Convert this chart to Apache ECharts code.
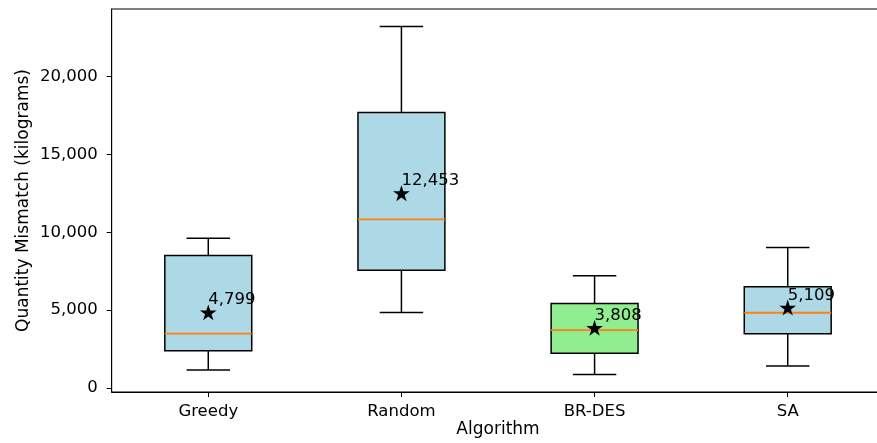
<!DOCTYPE html>
<html>
<head>
<meta charset="utf-8">
<script src="https://cdn.jsdelivr.net/npm/echarts@6/dist/echarts.min.js"></script>
<style>
  html, body { margin: 0; padding: 0; background: #ffffff; overflow: hidden; }
  #chart { width: 885px; height: 443px; }
</style>
</head>
<body>
<div id="chart"></div>
<script>
// Algorithms compared
const algorithms = ['Greedy', 'Random', 'BR-DES', 'SA'];

// Box statistics per algorithm: [lower whisker, Q1, median, Q3, upper whisker] (kg)
const greedyStats = [1154, 2391, 3481, 8506, 9615];
const randomStats = [4850, 7564, 10833, 17692, 23226];
const brdesStats  = [855, 2222, 3718, 5426, 7199];
const saStats     = [1410, 3483, 4829, 6496, 9017];

// Mean mismatch per algorithm (kg)
const meanValues = [4799, 12453, 3808, 5109];

// Y axis tick values
const yTicks = [0, 5000, 10000, 15000, 20000];

const boxStats = [greedyStats, randomStats, brdesStats, saStats];
const highlighted = 'BR-DES';

const FONT = 'DejaVu Sans';
const FS = 16.5;
const fmt = v => Math.round(v).toLocaleString('en-US');

// Axis limits with a 5% margin around the whisker extent
const allVals = boxStats.flat();
const lo = Math.min(...allVals), hi = Math.max(...allVals);
const pad = (hi - lo) * 0.05;
const yMin = lo - pad, yMax = hi + pad;

const boxData = boxStats.map((s, i) => [i, ...s]);
const meanData = meanValues.map((m, i) => [i, m]);

// five-pointed star (outer radius 1, inner radius 0.382)
function starPath() {
  const pts = [];
  for (let k = 0; k < 10; k++) {
    const r = k % 2 === 0 ? 1 : 0.381966;
    const a = -Math.PI / 2 + k * Math.PI / 5;
    pts.push((r * Math.cos(a)).toFixed(4) + ' ' + (r * Math.sin(a)).toFixed(4));
  }
  return 'path://M' + pts.join(' L') + ' Z';
}

const LW = 1.5;

function renderBox(params, api) {
  const idx = api.value(0);
  const band = api.size([1, 0])[0];
  const bw = band * 0.45;
  const cw = band * 0.225;
  const pMin = api.coord([idx, api.value(1)]);
  const pQ1 = api.coord([idx, api.value(2)]);
  const pMed = api.coord([idx, api.value(3)]);
  const pQ3 = api.coord([idx, api.value(4)]);
  const pMax = api.coord([idx, api.value(5)]);
  const cx = pMed[0];
  const fill = algorithms[idx] === highlighted ? '#90EE90' : '#ADD8E6';
  const stroke = { stroke: '#000000', lineWidth: LW };
  return {
    type: 'group',
    children: [
      { type: 'line', shape: { x1: cx, y1: pQ1[1], x2: cx, y2: pMin[1] }, style: stroke },
      { type: 'line', shape: { x1: cx, y1: pQ3[1], x2: cx, y2: pMax[1] }, style: stroke },
      { type: 'line', shape: { x1: cx - cw / 2, y1: pMin[1], x2: cx + cw / 2, y2: pMin[1] }, style: stroke },
      { type: 'line', shape: { x1: cx - cw / 2, y1: pMax[1], x2: cx + cw / 2, y2: pMax[1] }, style: stroke },
      { type: 'rect', shape: { x: cx - bw / 2, y: pQ3[1], width: bw, height: pQ1[1] - pQ3[1] },
        style: { fill: fill, stroke: '#000000', lineWidth: LW } },
      { type: 'line', shape: { x1: cx - bw / 2, y1: pMed[1], x2: cx + bw / 2, y2: pMed[1] },
        style: { stroke: '#ff7f0e', lineWidth: 1.8 } }
    ]
  };
}

function renderMeanLabel(params, api) {
  const p = api.coord([api.value(0), api.value(1)]);
  return {
    type: 'text',
    x: p[0],
    y: p[1] - 13,
    style: {
      text: fmt(api.value(1)),
      font: FS + 'px "' + FONT + '"',
      fill: '#000000',
      align: 'left',
      verticalAlign: 'middle'
    },
    z2: 10
  };
}

const chart = echarts.init(document.getElementById('chart'), null, { renderer: 'canvas' });
chart.setOption({
  animation: false,
  backgroundColor: '#ffffff',
  textStyle: { fontFamily: FONT },
  grid: {
    left: 111.7, right: 0.7, top: 9, bottom: 51,
    containLabel: false,
    outerBoundsMode: 'none',
    show: true, borderColor: '#000000', borderWidth: 1, backgroundColor: 'transparent'
  },
  xAxis: {
    type: 'category',
    data: algorithms,
    boundaryGap: true,
    name: 'Algorithm',
    nameLocation: 'middle',
    nameGap: 29,
    nameMoveOverlap: false,
    nameTextStyle: { fontFamily: FONT, fontSize: 17, color: '#000000' },
    axisLine: { show: true, onZero: false, lineStyle: { color: '#000000', width: 1 } },
    axisTick: { show: true, alignWithLabel: true, length: 5, lineStyle: { color: '#000000', width: 1 } },
    axisLabel: { fontFamily: FONT, fontSize: FS, color: '#000000', margin: 11 },
    splitLine: { show: false }
  },
  yAxis: {
    type: 'value',
    min: yMin,
    max: yMax,
    name: 'Quantity Mismatch (kilograms)',
    nameLocation: 'middle',
    nameGap: 80,
    nameRotate: 90,
    nameMoveOverlap: false,
    nameTextStyle: { fontFamily: FONT, fontSize: 17, color: '#000000' },
    axisLine: { show: true, lineStyle: { color: '#000000', width: 1 } },
    axisTick: { show: true, length: 5, customValues: yTicks, lineStyle: { color: '#000000', width: 1 } },
    axisLabel: {
      fontFamily: FONT, fontSize: FS, color: '#000000', margin: 14,
      customValues: yTicks, formatter: v => fmt(v)
    },
    splitLine: { show: false }
  },
  series: [
    {
      type: 'custom',
      name: 'box',
      renderItem: renderBox,
      data: boxData,
      encode: { x: 0, y: [1, 2, 3, 4, 5] },
      z: 2
    },
    {
      type: 'scatter',
      name: 'mean',
      data: meanData,
      symbol: starPath(),
      symbolSize: [16.7, 15.9],
      symbolOffset: [0, -0.85],
      itemStyle: { color: '#000000', opacity: 1 },
      z: 4
    },
    {
      type: 'custom',
      name: 'meanLabel',
      renderItem: renderMeanLabel,
      data: meanData,
      z: 5
    }
  ]
});
</script>
</body>
</html>
